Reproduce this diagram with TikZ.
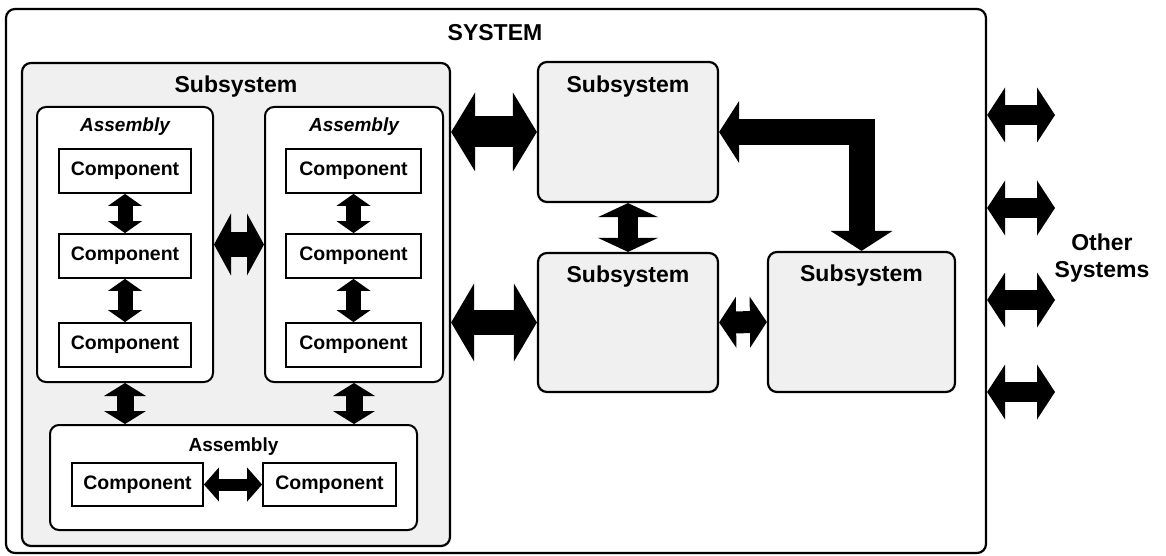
\documentclass[tikz,border=0pt]{standalone}
\usepackage{fontspec}
\setmainfont{Liberation Sans}
\usetikzlibrary{arrows.meta}
\begin{document}
\begin{tikzpicture}[x=1pt,y=-1pt,
  frame/.style={draw, line width=2.2pt, rounded corners=9pt, inner sep=0pt},
  subbox/.style={frame, fill=black!6},
  asmbox/.style={frame, line width=2pt, fill=white},
  compbox/.style={draw, line width=1.8pt, fill=white, inner sep=0pt,
    font=\fontsize{19.5}{20}\selectfont\bfseries},
  biglbl/.style={inner sep=0pt, font=\fontsize{23}{24}\selectfont\bfseries},
  asmlbl/.style={inner sep=0pt, font=\fontsize{19}{20}\selectfont\bfseries\itshape},
  asmlblup/.style={inner sep=0pt, font=\fontsize{19}{20}\selectfont\bfseries},
  blk/.style n args={3}{line width=#1pt,
    arrows={Triangle[length=#2pt,width=#3pt,line width=0pt]-Triangle[length=#2pt,width=#3pt,line width=0pt]}}
]
\useasboundingbox (0,0) rectangle (1166,556);

% outer system frame
\node[frame, fill=white, minimum width=980, minimum height=544] (sys) at (496,281) {};
\node[biglbl] (syslbl) at (495,33) {SYSTEM};

% subsystem holding the assemblies
\node[subbox, minimum width=428, minimum height=483] (bigS) at (236,304.5) {};
\node[biglbl] (bigSl) at (236,87) {Subsystem};

% assemblies
\node[asmbox, minimum width=176, minimum height=275] (aL) at (125,244.5) {};
\node[asmlbl] (aLl) at (125,127) {Assembly};
\node[asmbox, minimum width=178, minimum height=275] (aR) at (354,244.5) {};
\node[asmlbl] (aRl) at (354,127) {Assembly};
\node[asmbox, minimum width=367, minimum height=105] (aB) at (233.5,477.5) {};
\node[asmlblup] (aBl) at (233.5,447) {Assembly};

% components
\node[compbox, minimum width=132, minimum height=44] (l1) at (125,171) {Component};
\node[compbox, minimum width=132, minimum height=44] (l2) at (125,256) {Component};
\node[compbox, minimum width=132, minimum height=44] (l3) at (125,345) {Component};
\node[compbox, minimum width=135, minimum height=44] (r1) at (353.5,171) {Component};
\node[compbox, minimum width=135, minimum height=44] (r2) at (353.5,256) {Component};
\node[compbox, minimum width=135, minimum height=44] (r3) at (353.5,345) {Component};
\node[compbox, minimum width=131, minimum height=43] (b1) at (137.5,484.5) {Component};
\node[compbox, minimum width=133, minimum height=43] (b2) at (329.5,484.5) {Component};

% other subsystems
\node[subbox, minimum width=180, minimum height=140] (topS) at (628,132) {};
\node[biglbl] (topSl) at (628,87) {Subsystem};
\node[subbox, minimum width=180, minimum height=139] (midS) at (628,322.5) {};
\node[biglbl] (midSl) at (628,277) {Subsystem};
\node[subbox, minimum width=187, minimum height=140] (rS) at (861.5,322) {};
\node[biglbl] (rSl) at (861.5,276) {Subsystem};

% external systems
\node[biglbl, align=center, font=\fontsize{23}{27}\selectfont\bfseries] (oth) at (1102,258) {Other\\Systems};
\coordinate (o1) at (1055,115);
\coordinate (o2) at (1055,208);
\coordinate (o3) at (1055,300);
\coordinate (o4) at (1055,392);

% interfaces between components
\draw[blk={15}{12}{34}] (l1.south) -- (l2.north);
\draw[blk={15}{12}{34}] (l2.south) -- (l3.north);
\draw[blk={15}{12}{34}] (r1.south) -- (r2.north);
\draw[blk={15}{12}{34}] (r2.south) -- (r3.north);
\draw[blk={12}{15}{34}] (b1.east) -- (b2.west);

% interfaces between assemblies
\draw[blk={25}{17}{62}] (aL.east) -- (aR.west);
\draw[blk={17}{13}{42}] (aL.south) -- (aL.south |- aB.north);
\draw[blk={17}{13}{42}] (aR.south) -- (aR.south |- aB.north);

% interfaces between subsystems
\draw[blk={31}{24}{79}] (bigS.east |- topS.west) -- (topS.west);
\draw[blk={25}{23}{78}] (bigS.east |- midS.west) -- (midS.west);
\draw[blk={22}{17}{51}] (midS.east) -- (rS.west);
\draw[blk={20}{14}{60}] (topS.south) -- (midS.north);
\draw[blk={26}{20}{62}] (topS.east) -| (rS.north);

% interfaces to other systems
\foreach \o in {o1,o2,o3,o4}
  \draw[blk={20}{18}{55}] (sys.east |- \o) -- (\o);
\end{tikzpicture}
\end{document}
